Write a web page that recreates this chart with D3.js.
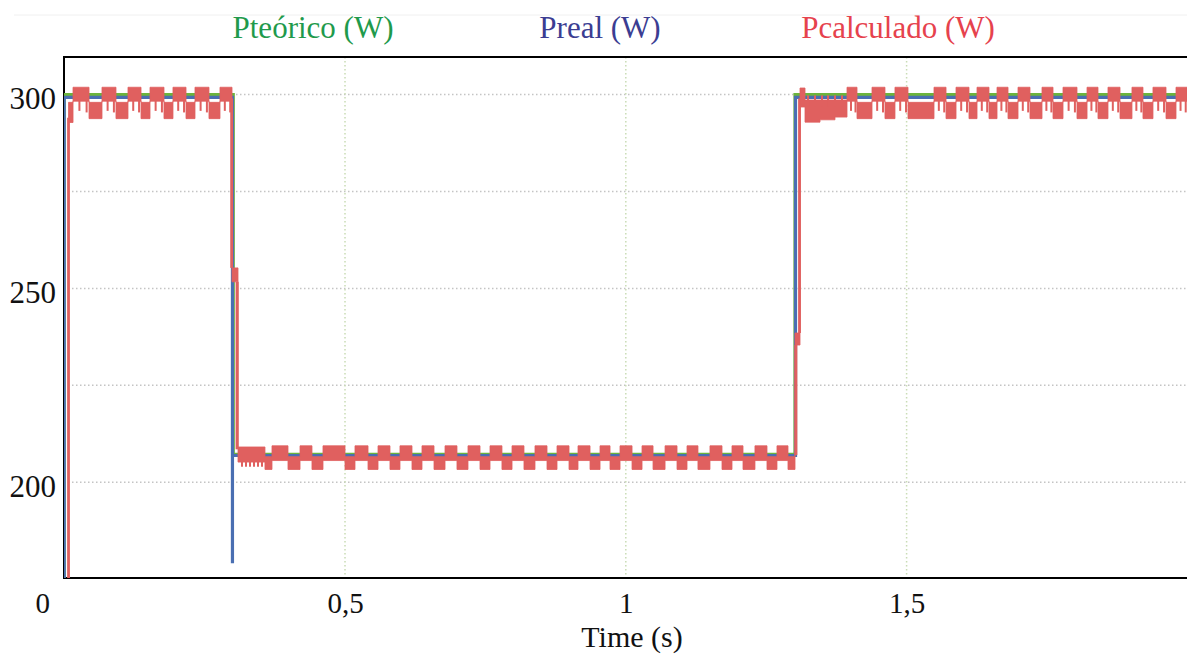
<!DOCTYPE html>
<html><head><meta charset="utf-8">
<script src="https://cdn.jsdelivr.net/npm/d3@7"></script>
<style>
body{margin:0;background:#fff;}
svg{display:block;}
text{font-family:"Liberation Serif","Times New Roman",serif;}
</style>
</head><body>
<svg id="chart" width="1187" height="655"></svg>
<script>
// ---------- data ----------
const xTicks = [0, 0.5, 1, 1.5];
const xTickLabels = ["0", "0,5", "1", "1,5"];
const yTicks = [200, 250, 300];
const yGrid = [200, 225, 250, 275, 300];
const xGrid = [0.5, 1, 1.5];
const legendNames = ["Pteórico (W)", "Preal (W)", "Pcalculado (W)"];
const xTitle = "Time (s)";

// Pteórico (W)
const theoT = [0, 0, 0.3010, 0.3010, 1.3013, 1.3013, 2];
const theoP = [0, 300, 300, 207.2, 207.2, 300, 300];
// Preal (W)
const realT = [0, 0, 0.2996, 0.2996, 0.2996, 1.3022, 1.3022, 2];
const realP = [0, 299.3, 299.3, 179.1, 206.9, 206.9, 299.3, 299.3];

// Pcalculado (W): envelope of the fast ripple (step segments)
const redT = [
  0.0077, 0.0157, 0.0442, 0.0673, 0.0922, 0.1136, 0.1368, 0.1528, 0.1777, 0.1937,
  0.2169, 0.2329, 0.2578, 0.2774, 0.2988, 0.3095, 0.3575, 0.3700, 0.3985, 0.4199,
  0.4412, 0.4608, 0.5000, 0.5178, 0.5410, 0.5588, 0.5801, 0.5979, 0.6193, 0.6371,
  0.6585, 0.6781, 0.6994, 0.7190, 0.7404, 0.7582, 0.7795, 0.7974, 0.8187, 0.8383,
  0.8597, 0.8775, 0.8989, 0.9149, 0.9363, 0.9541, 0.9719, 0.9897, 1.0111, 1.0289,
  1.0485, 1.0699, 1.0912, 1.1090, 1.1285, 1.1499, 1.1713, 1.1891, 1.2087, 1.2300,
  1.2514, 1.2692, 1.2888, 1.3013, 1.3102, 1.3191, 1.3458, 1.3725, 1.3939, 1.4117,
  1.4384, 1.4615, 1.4793, 1.5025, 1.5488, 1.5702, 1.5880, 1.6111, 1.6254, 1.6467,
  1.6610, 1.6806, 1.6984, 1.7197, 1.7411, 1.7607, 1.7785, 1.8034, 1.8213, 1.8408,
  1.8586, 1.8800, 1.9013, 1.9209, 1.9387, 1.9619, 1.9797, 2.0000
];
const redLo = [
  292.8, 298.3, 293.8, 298.3, 293.8, 298.3, 293.8, 298.3, 293.8, 298.3,
  293.8, 298.3, 293.8, 298.3, 251.7, 205.2, 203.3, 205.6, 203.3, 205.6,
  203.3, 205.6, 203.3, 205.6, 203.3, 205.6, 203.3, 205.6, 203.3, 205.6,
  203.3, 205.6, 203.3, 205.6, 203.3, 205.6, 203.3, 205.6, 203.3, 205.6,
  203.3, 205.6, 203.3, 205.6, 203.3, 205.6, 203.3, 205.6, 203.3, 205.6,
  203.3, 205.6, 203.3, 205.6, 203.3, 205.6, 203.3, 205.6, 203.3, 205.6,
  203.3, 205.6, 203.3, 235.4, 296.8, 292.9, 293.5, 294.2, 298.3, 293.8,
  298.3, 293.8, 298.3, 293.8, 298.3, 293.8, 298.3, 293.8, 298.3, 293.8,
  298.3, 293.8, 298.3, 293.8, 298.3, 293.8, 298.3, 293.8, 298.3, 293.8,
  298.3, 293.8, 298.3, 293.8, 298.3, 293.8, 298.3, 298.3
];
const redHi = [
  298.0, 301.9, 298.0, 301.9, 298.0, 301.9, 298.0, 301.9, 298.0, 301.9,
  298.0, 301.9, 298.0, 301.9, 255.3, 209.1, 206.6, 209.4, 206.6, 209.4,
  206.6, 209.4, 206.6, 209.4, 206.6, 209.4, 206.6, 209.4, 206.6, 209.4,
  206.6, 209.4, 206.6, 209.4, 206.6, 209.4, 206.6, 209.4, 206.6, 209.4,
  206.6, 209.4, 206.6, 209.4, 206.6, 209.4, 206.6, 209.4, 206.6, 209.4,
  206.6, 209.4, 206.6, 209.4, 206.6, 209.4, 206.6, 209.4, 206.6, 209.4,
  206.6, 209.4, 206.6, 238.5, 301.7, 298.6, 298.6, 298.6, 301.9, 298.0,
  301.9, 298.0, 301.9, 298.0, 301.9, 298.0, 301.9, 298.0, 301.9, 298.0,
  301.9, 298.0, 301.9, 298.0, 301.9, 298.0, 301.9, 298.0, 301.9, 298.0,
  301.9, 298.0, 301.9, 298.0, 301.9, 298.0, 301.9, 301.9
];
// Pcalculado narrow ripple teeth (time, low, high)
const teethT = [
  0.0271, 0.0399, 0.0773, 0.0885, 0.1229, 0.1333, 0.1628, 0.1740, 0.2030, 0.2134,
  0.2429, 0.2541, 0.2860, 0.2956,
  0.3166, 0.3237, 0.3308, 0.3380, 0.3451, 0.3522,
  1.3245, 1.3369, 1.3494, 1.3601, 1.3725, 1.3850,
  1.4010, 1.4090, 1.4476, 1.4580, 1.4886, 1.4990, 1.5574, 1.5670, 1.5972, 1.6076,
  1.6339, 1.6435, 1.6688, 1.6777, 1.7069, 1.7165, 1.7489, 1.7578, 1.7885, 1.7997,
  1.8291, 1.8379, 1.8672, 1.8768, 1.9091, 1.9180, 1.9480, 1.9584, 1.9878, 1.9970
];
const teethLo = [
  295.8, 295.4, 295.8, 295.4, 295.8, 295.4, 295.8, 295.4, 295.8, 295.4,
  295.8, 295.4, 295.8, 295.4,
  204.0, 204.0, 204.0, 204.0, 204.0, 204.0,
  297.0, 297.0, 297.0, 297.0, 297.0, 297.0,
  295.8, 295.4, 295.8, 295.4, 295.8, 295.4, 295.8, 295.4, 295.8, 295.4,
  295.8, 295.4, 295.8, 295.4, 295.8, 295.4, 295.8, 295.4, 295.8, 295.4,
  295.8, 295.4, 295.8, 295.4, 295.8, 295.4, 295.8, 295.4, 295.8, 295.4
];
const teethHi = [
  298.6, 298.6, 298.6, 298.6, 298.6, 298.6, 298.6, 298.6, 298.6, 298.6,
  298.6, 298.6, 298.6, 298.6,
  206.0, 206.0, 206.0, 206.0, 206.0, 206.0,
  299.8, 299.8, 299.8, 299.8, 299.8, 299.8,
  298.6, 298.6, 298.6, 298.6, 298.6, 298.6, 298.6, 298.6, 298.6, 298.6,
  298.6, 298.6, 298.6, 298.6, 298.6, 298.6, 298.6, 298.6, 298.6, 298.6,
  298.6, 298.6, 298.6, 298.6, 298.6, 298.6, 298.6, 298.6, 298.6, 298.6
];
// Pcalculado vertical transitions
const jumpT = [0.0077, 0.2982, 0.3077, 1.3030, 1.3093];
const jumpFrom = [170, 299.0, 251.7, 207.0, 238.5];
const jumpTo = [294.0, 255.3, 208.5, 235.4, 299.0];

// ---------- chart ----------
const W = 1187, H = 655;
const svg = d3.select("#chart");
const x = d3.scaleLinear().domain([0, 2]).range([64.2, 1187.4]);
const y = d3.scaleLinear().domain([175.3, 309.7]).range([578, 57]);
const x0 = 64, x1 = 1187, yTop = 57, yBot = 578;

const colTheo = "#6cb43c", colReal = "#4a6fb2", colCalc = "#e0605f";

svg.append("defs").append("clipPath").attr("id", "clip")
  .append("rect").attr("x", x0).attr("y", yTop).attr("width", x1 - x0).attr("height", yBot - yTop);

// faint top rule
svg.append("line").attr("x1", 14).attr("x2", W).attr("y1", 15).attr("y2", 15)
  .attr("stroke", "#f0f0f0").attr("stroke-width", 1);

// grids
svg.append("g").selectAll("line").data(yGrid).join("line")
  .attr("x1", x0).attr("x2", x1).attr("y1", d => y(d)).attr("y2", d => y(d))
  .attr("stroke", "#c4c4c4").attr("stroke-width", 1.5).attr("stroke-dasharray", "1.5,2.5");
svg.append("g").selectAll("line").data(xGrid).join("line")
  .attr("x1", d => x(d)).attr("x2", d => x(d)).attr("y1", yTop).attr("y2", yBot)
  .attr("stroke", "#c9dcb5").attr("stroke-width", 1.5).attr("stroke-dasharray", "1.5,2.5");

// frame
svg.append("path").attr("d", `M${x1},${yTop}H${x0}V${yBot}H${x1}`)
  .attr("fill", "none").attr("stroke", "#000").attr("stroke-width", 2);

// axes labels
const xAxis = d3.axisBottom(x).tickValues(xTicks).tickSize(0).tickFormat((d, i) => xTickLabels[i]);
const gx = svg.append("g").attr("transform", `translate(0,${yBot})`).call(xAxis);
gx.select(".domain").remove();
gx.selectAll("text").attr("font-size", 29).attr("fill", "#111")
  .attr("y", 35).attr("dy", 0)
  .attr("dx", (d, i) => i === 0 ? -22 : 0);

const yAxis = d3.axisLeft(y).tickValues(yTicks).tickSize(0).tickFormat(d3.format("d"));
const gy = svg.append("g").attr("transform", `translate(${x0},0)`).call(yAxis);
gy.select(".domain").remove();
gy.selectAll("text").attr("font-size", 31).attr("fill", "#111").attr("x", -8).attr("dy", "0.45em");

svg.append("text").attr("x", 632).attr("y", 647).attr("text-anchor", "middle")
  .attr("font-size", 30).attr("fill", "#111").text(xTitle);

// legend
const legX = [313, 600, 898];
const legC = ["#1f9a4c", "#3b3d92", "#e6424d"];
svg.append("g").selectAll("text").data(legendNames).join("text")
  .attr("x", (d, i) => legX[i]).attr("y", 38).attr("text-anchor", "middle")
  .attr("font-size", 31).attr("fill", (d, i) => legC[i]).text(d => d);

// series
const plot = svg.append("g").attr("clip-path", "url(#clip)");
const line = d3.line().x(d => x(d[0])).y(d => y(d[1]));

plot.append("path").datum(theoT.map((t, i) => [t, theoP[i]]))
  .attr("d", line).attr("fill", "none").attr("stroke", colTheo).attr("stroke-width", 3.2);
plot.append("path").datum(realT.map((t, i) => [t, realP[i]]))
  .attr("d", line).attr("fill", "none").attr("stroke", colReal).attr("stroke-width", 3.2);

const area = d3.area().curve(d3.curveStepAfter)
  .x(d => x(d[0])).y0(d => y(d[1])).y1(d => y(d[2]));
plot.append("path").datum(redT.map((t, i) => [t, redLo[i], redHi[i]]))
  .attr("d", area).attr("fill", colCalc).attr("stroke", colCalc).attr("stroke-width", 0.8);

plot.append("g").selectAll("line").data(teethT).join("line")
  .attr("x1", d => x(d)).attr("x2", d => x(d))
  .attr("y1", (d, i) => y(teethLo[i])).attr("y2", (d, i) => y(teethHi[i]))
  .attr("stroke", colCalc).attr("stroke-width", 2);

plot.append("g").selectAll("line").data(jumpT).join("line")
  .attr("x1", d => x(d)).attr("x2", d => x(d))
  .attr("y1", (d, i) => y(jumpFrom[i])).attr("y2", (d, i) => y(jumpTo[i]))
  .attr("stroke", colCalc).attr("stroke-width", 2.8);
</script>
</body></html>
